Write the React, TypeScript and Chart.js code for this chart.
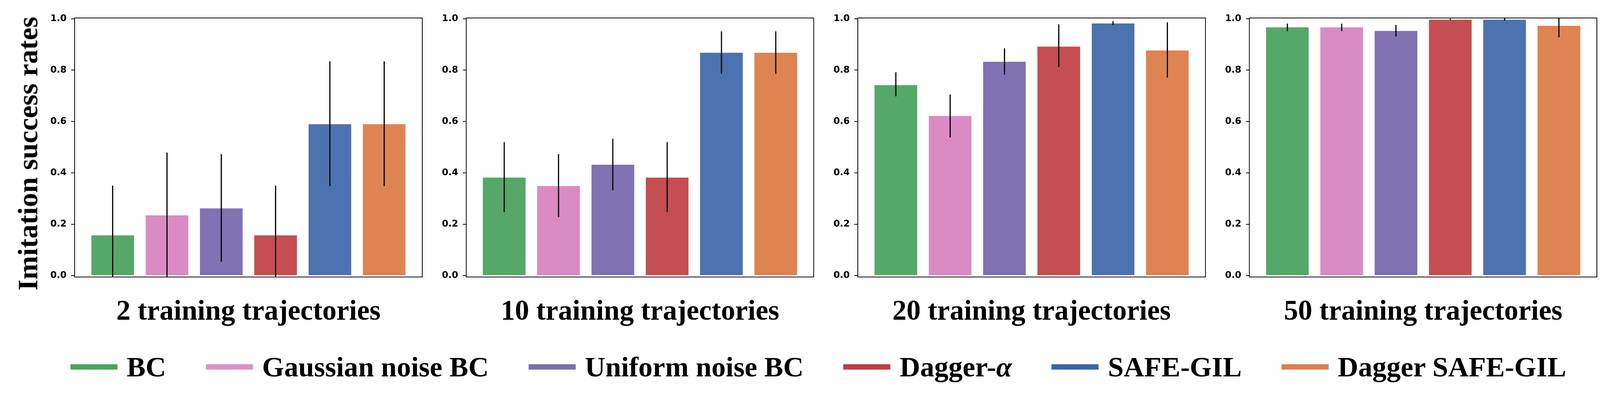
import { useEffect, useRef } from "react";
import { Chart, registerables } from "chart.js";

Chart.register(...registerables);

const methods = ["BC", "Gaussian noise BC", "Uniform noise BC", "Dagger-α", "SAFE-GIL", "Dagger SAFE-GIL"];
const panelTitles = ["2 training trajectories", "10 training trajectories", "20 training trajectories", "50 training trajectories"];
const yTickValues = [0, 0.2, 0.4, 0.6, 0.8, 1.0];

// mean success rate + error bar ends, one set per panel
const rates2 = [0.158, 0.236, 0.263, 0.158, 0.591, 0.591];
const low2 = [-0.03, -0.007, 0.054, -0.03, 0.349, 0.349];
const high2 = [0.35, 0.479, 0.473, 0.35, 0.834, 0.834];

const rates10 = [0.383, 0.35, 0.433, 0.383, 0.869, 0.869];
const low10 = [0.247, 0.228, 0.332, 0.247, 0.786, 0.786];
const high10 = [0.52, 0.473, 0.533, 0.52, 0.951, 0.951];

const rates20 = [0.743, 0.623, 0.834, 0.893, 0.983, 0.878];
const low20 = [0.698, 0.538, 0.782, 0.812, 0.976, 0.771];
const high20 = [0.792, 0.705, 0.885, 0.978, 0.991, 0.986];

const rates50 = [0.968, 0.968, 0.954, 0.998, 0.998, 0.974];
const low50 = [0.952, 0.952, 0.931, 0.996, 0.993, 0.928];
const high50 = [0.981, 0.981, 0.976, 1.0, 1.003, 1.02];

const barColors = ["#55a868", "#da8bc3", "#8172b3", "#c44e52", "#4c72b0", "#dd8452"];
const legendColors = ["#48a55d", "#dd90c8", "#7c6db2", "#c03c43", "#3a64a8", "#dd7f4a"];

const serif = "'Liberation Serif', 'Times New Roman', serif";
const PAGE_W = 4180;
const PAGE_H = 1049;

const errorBars = {
  id: "errorBars",
  afterDatasetsDraw(chart, _args, opts) {
    const { ctx, chartArea } = chart;
    const y = chart.scales.y;
    const meta = chart.getDatasetMeta(0);
    ctx.save();
    ctx.beginPath();
    ctx.rect(chartArea.left, chartArea.top, chartArea.right - chartArea.left, chartArea.bottom - chartArea.top);
    ctx.clip();
    ctx.strokeStyle = "#000";
    ctx.lineWidth = 3;
    meta.data.forEach((bar, i) => {
      ctx.beginPath();
      ctx.moveTo(bar.x, y.getPixelForValue(opts.low[i]));
      ctx.lineTo(bar.x, y.getPixelForValue(opts.high[i]));
      ctx.stroke();
    });
    ctx.restore();
  },
};

const frame = {
  id: "frame",
  afterDraw(chart) {
    const { ctx, chartArea } = chart;
    ctx.save();
    ctx.strokeStyle = "#000";
    ctx.lineWidth = 2;
    ctx.strokeRect(chartArea.left, chartArea.top, chartArea.right - chartArea.left, chartArea.bottom - chartArea.top);
    ctx.restore();
  },
};

function Panel({ index, title, values, low, high }) {
  const canvasRef = useRef(null);

  useEffect(() => {
    const chart = new Chart(canvasRef.current, {
      type: "bar",
      data: {
        datasets: [
          {
            data: values.map((v, i) => ({ x: i, y: v })),
            backgroundColor: barColors,
            borderColor: "rgba(255,255,255,0.35)",
            borderWidth: 1,
            categoryPercentage: 1,
            barPercentage: 0.8,
          },
        ],
      },
      options: {
        responsive: false,
        animation: false,
        devicePixelRatio: 2,
        layout: { padding: { top: 47, right: 8, bottom: 20, left: 0 } },
        plugins: {
          legend: { display: false },
          tooltip: { enabled: false },
          errorBars: { low, high },
        },
        scales: {
          x: {
            type: "linear",
            offset: false,
            min: -0.7,
            max: 5.7,
            afterBuildTicks: (s) => {
              s.ticks = values.map((_, i) => ({ value: i }));
            },
            ticks: { display: false },
            grid: { display: false, drawTicks: false, offset: false },
            border: { display: false },
            title: {
              display: true,
              text: title,
              color: "#000",
              font: { family: serif, weight: "bold", size: 74, lineHeight: 1.2 },
              padding: { top: 48, bottom: 0 },
            },
          },
          y: {
            min: -0.0055,
            max: 1.003,
            afterFit: (s) => {
              s.width = 100;
            },
            afterBuildTicks: (s) => {
              s.ticks = yTickValues.map((v) => ({ value: v }));
            },
            ticks: {
              color: "#000",
              padding: 12,
              font: { family: "'DejaVu Sans'", weight: "bold", size: 24 },
              callback: (v) => Number(v).toFixed(1),
            },
            grid: { drawOnChartArea: false, drawTicks: true, tickLength: 9, tickColor: "#000", lineWidth: 2 },
            border: { display: false },
          },
        },
      },
      plugins: [errorBars, frame],
    });
    return () => chart.destroy();
  }, [title, values, low, high]);

  return (
    <canvas
      ref={canvasRef}
      width={1016}
      height={880}
      style={{ position: "absolute", left: 95 + index * 1023, top: 0, width: 1016, height: 880 }}
    />
  );
}

export default function App() {
  const panels = [
    [rates2, low2, high2],
    [rates10, low10, high10],
    [rates20, low20, high20],
    [rates50, low50, high50],
  ];

  document.documentElement.style.overflow = "hidden";
  // the viewport can be a little narrower than the photo, so scale the whole figure to fit it
  const s = window.innerWidth / PAGE_W;

  return (
    <div
      style={{
        position: "absolute",
        left: 0,
        top: 0,
        width: PAGE_W,
        height: PAGE_H,
        background: "#fff",
        overflow: "hidden",
        transformOrigin: "0 0",
        transform: `scale(${s})`,
      }}
    >
      {panels.map(([v, lo, hi], i) => (
        <Panel key={i} index={i} title={panelTitles[i]} values={v} low={lo} high={hi} />
      ))}
      <div
        style={{
          position: "absolute",
          left: 72,
          top: 401,
          transform: "translate(-50%, -50%) rotate(-90deg)",
          whiteSpace: "nowrap",
          fontFamily: serif,
          fontWeight: "bold",
          fontSize: 74,
          lineHeight: 1,
        }}
      >
        Imitation success rates
      </div>
      <div
        style={{
          position: "absolute",
          left: 184,
          top: 921,
          display: "flex",
          alignItems: "center",
          gap: 104,
          fontFamily: serif,
          fontWeight: "bold",
          fontSize: 74,
          lineHeight: 1,
          whiteSpace: "nowrap",
        }}
      >
        {methods.map((m, i) => (
          <div key={m} style={{ display: "flex", alignItems: "center", gap: 24 }}>
            <div style={{ width: 123, height: 14, background: legendColors[i] }} />
            <span>
              {m.endsWith("α") ? (
                <>
                  {m.slice(0, -1)}
                  <i>α</i>
                </>
              ) : (
                m
              )}
            </span>
          </div>
        ))}
      </div>
    </div>
  );
}
